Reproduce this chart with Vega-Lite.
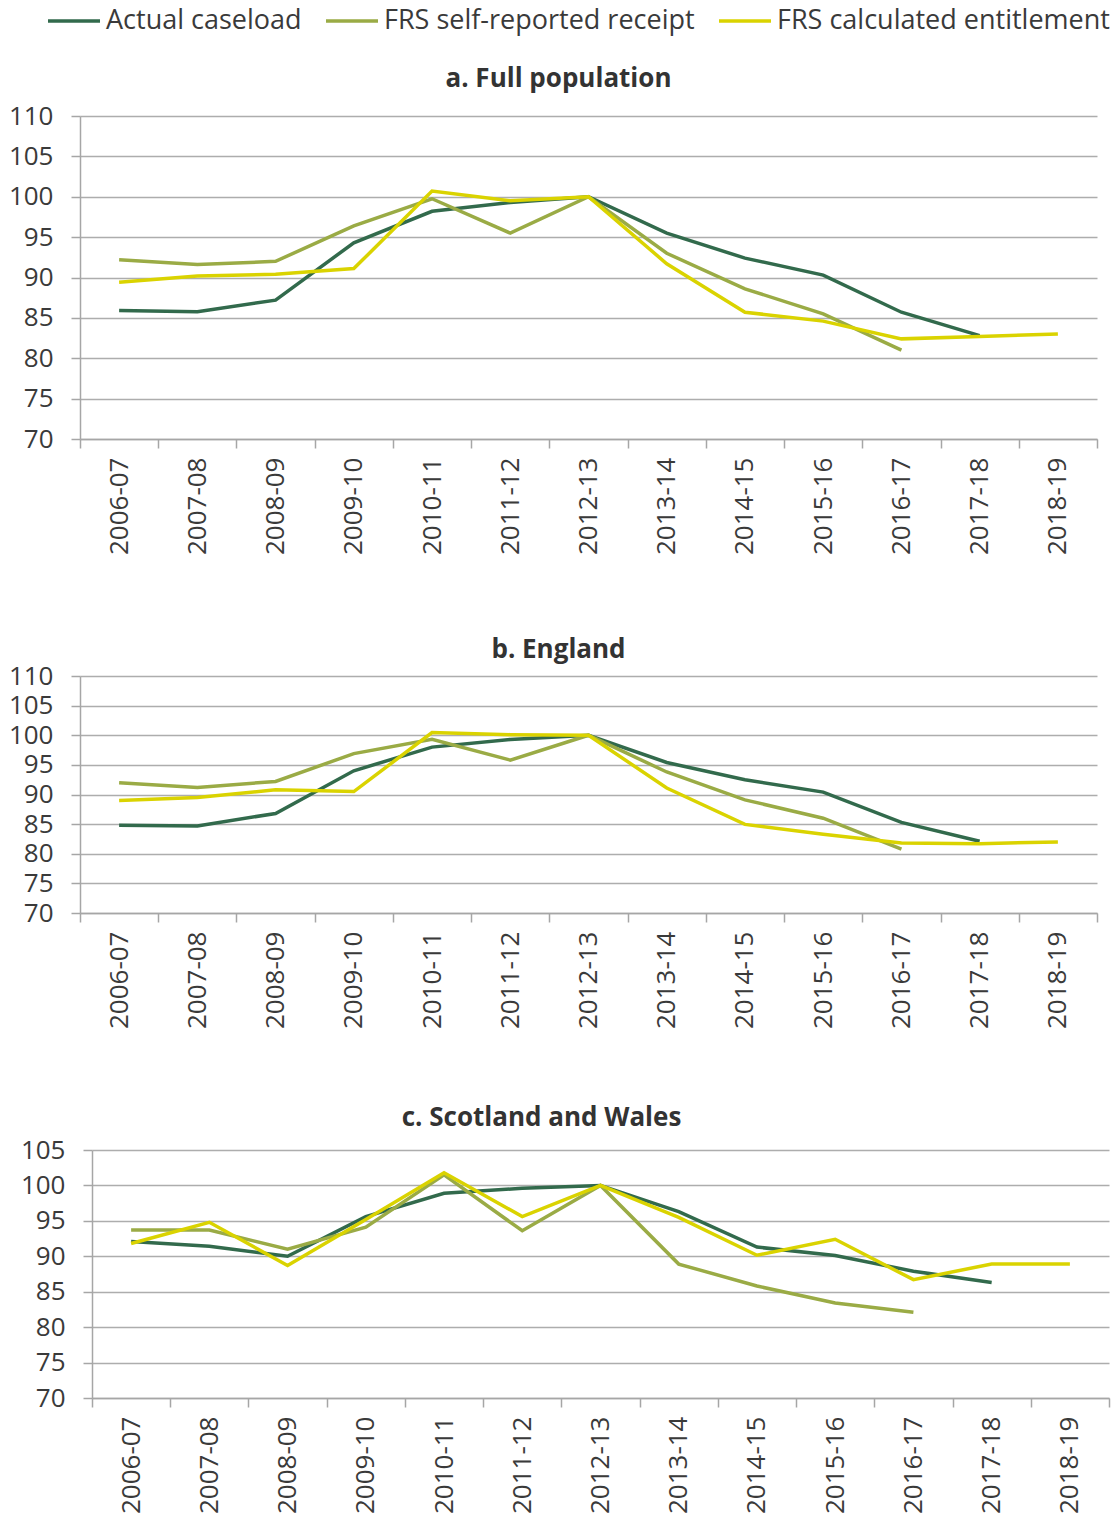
{
  "$schema": "https://vega.github.io/schema/vega-lite/v6.json",
  "background": "white",
  "padding": {"left": 8, "top": -7, "right": 5, "bottom": 5},
  "bounds": "flush",
  "spacing": 237,
  "config": {
    "font": "Open Sans",
    "view": {"stroke": null},
    "axis": {
      "labelFont": "Open Sans",
      "labelFontSize": 26,
      "labelColor": "#3A3A3A",
      "domainColor": "#A6A6A6",
      "domainWidth": 1.5,
      "tickColor": "#A6A6A6",
      "tickWidth": 1.5,
      "tickSize": 9,
      "gridColor": "#ADADAD",
      "gridWidth": 1.5,
      "title": null
    },
    "axisX": {"grid": false, "labelAngle": -90, "labelPadding": 9, "tickBand": "extent"},
    "axisY": {"grid": true, "labelPadding": 18},
    "title": {"font": "Open Sans", "fontSize": 26, "fontWeight": "bold", "color": "#333333", "anchor": "middle"},
    "line": {"strokeWidth": 3.5}
  },
  "data": {
    "values": [
      {"p": "a", "year": "2006-07", "s": "Actual caseload", "v": 85.9},
      {"p": "a", "year": "2007-08", "s": "Actual caseload", "v": 85.75},
      {"p": "a", "year": "2008-09", "s": "Actual caseload", "v": 87.2},
      {"p": "a", "year": "2009-10", "s": "Actual caseload", "v": 94.3},
      {"p": "a", "year": "2010-11", "s": "Actual caseload", "v": 98.2},
      {"p": "a", "year": "2011-12", "s": "Actual caseload", "v": 99.3},
      {"p": "a", "year": "2012-13", "s": "Actual caseload", "v": 100},
      {"p": "a", "year": "2013-14", "s": "Actual caseload", "v": 95.5},
      {"p": "a", "year": "2014-15", "s": "Actual caseload", "v": 92.4},
      {"p": "a", "year": "2015-16", "s": "Actual caseload", "v": 90.3},
      {"p": "a", "year": "2016-17", "s": "Actual caseload", "v": 85.7},
      {"p": "a", "year": "2017-18", "s": "Actual caseload", "v": 82.8},
      {"p": "a", "year": "2006-07", "s": "FRS self-reported receipt", "v": 92.2},
      {"p": "a", "year": "2007-08", "s": "FRS self-reported receipt", "v": 91.6},
      {"p": "a", "year": "2008-09", "s": "FRS self-reported receipt", "v": 92.0},
      {"p": "a", "year": "2009-10", "s": "FRS self-reported receipt", "v": 96.4},
      {"p": "a", "year": "2010-11", "s": "FRS self-reported receipt", "v": 99.75},
      {"p": "a", "year": "2011-12", "s": "FRS self-reported receipt", "v": 95.5},
      {"p": "a", "year": "2012-13", "s": "FRS self-reported receipt", "v": 100},
      {"p": "a", "year": "2013-14", "s": "FRS self-reported receipt", "v": 93.0},
      {"p": "a", "year": "2014-15", "s": "FRS self-reported receipt", "v": 88.6},
      {"p": "a", "year": "2015-16", "s": "FRS self-reported receipt", "v": 85.5},
      {"p": "a", "year": "2016-17", "s": "FRS self-reported receipt", "v": 81.0},
      {"p": "a", "year": "2006-07", "s": "FRS calculated entitlement", "v": 89.4},
      {"p": "a", "year": "2007-08", "s": "FRS calculated entitlement", "v": 90.2},
      {"p": "a", "year": "2008-09", "s": "FRS calculated entitlement", "v": 90.4},
      {"p": "a", "year": "2009-10", "s": "FRS calculated entitlement", "v": 91.1},
      {"p": "a", "year": "2010-11", "s": "FRS calculated entitlement", "v": 100.7},
      {"p": "a", "year": "2011-12", "s": "FRS calculated entitlement", "v": 99.5},
      {"p": "a", "year": "2012-13", "s": "FRS calculated entitlement", "v": 100},
      {"p": "a", "year": "2013-14", "s": "FRS calculated entitlement", "v": 91.7},
      {"p": "a", "year": "2014-15", "s": "FRS calculated entitlement", "v": 85.7},
      {"p": "a", "year": "2015-16", "s": "FRS calculated entitlement", "v": 84.6},
      {"p": "a", "year": "2016-17", "s": "FRS calculated entitlement", "v": 82.4},
      {"p": "a", "year": "2017-18", "s": "FRS calculated entitlement", "v": 82.7},
      {"p": "a", "year": "2018-19", "s": "FRS calculated entitlement", "v": 83.0},

      {"p": "b", "year": "2006-07", "s": "Actual caseload", "v": 84.8},
      {"p": "b", "year": "2007-08", "s": "Actual caseload", "v": 84.7},
      {"p": "b", "year": "2008-09", "s": "Actual caseload", "v": 86.8},
      {"p": "b", "year": "2009-10", "s": "Actual caseload", "v": 94.0},
      {"p": "b", "year": "2010-11", "s": "Actual caseload", "v": 98.0},
      {"p": "b", "year": "2011-12", "s": "Actual caseload", "v": 99.3},
      {"p": "b", "year": "2012-13", "s": "Actual caseload", "v": 100},
      {"p": "b", "year": "2013-14", "s": "Actual caseload", "v": 95.4},
      {"p": "b", "year": "2014-15", "s": "Actual caseload", "v": 92.5},
      {"p": "b", "year": "2015-16", "s": "Actual caseload", "v": 90.4},
      {"p": "b", "year": "2016-17", "s": "Actual caseload", "v": 85.3},
      {"p": "b", "year": "2017-18", "s": "Actual caseload", "v": 82.1},
      {"p": "b", "year": "2006-07", "s": "FRS self-reported receipt", "v": 92.0},
      {"p": "b", "year": "2007-08", "s": "FRS self-reported receipt", "v": 91.2},
      {"p": "b", "year": "2008-09", "s": "FRS self-reported receipt", "v": 92.2},
      {"p": "b", "year": "2009-10", "s": "FRS self-reported receipt", "v": 96.9},
      {"p": "b", "year": "2010-11", "s": "FRS self-reported receipt", "v": 99.3},
      {"p": "b", "year": "2011-12", "s": "FRS self-reported receipt", "v": 95.8},
      {"p": "b", "year": "2012-13", "s": "FRS self-reported receipt", "v": 100},
      {"p": "b", "year": "2013-14", "s": "FRS self-reported receipt", "v": 93.8},
      {"p": "b", "year": "2014-15", "s": "FRS self-reported receipt", "v": 89.1},
      {"p": "b", "year": "2015-16", "s": "FRS self-reported receipt", "v": 86.0},
      {"p": "b", "year": "2016-17", "s": "FRS self-reported receipt", "v": 80.8},
      {"p": "b", "year": "2006-07", "s": "FRS calculated entitlement", "v": 89.0},
      {"p": "b", "year": "2007-08", "s": "FRS calculated entitlement", "v": 89.5},
      {"p": "b", "year": "2008-09", "s": "FRS calculated entitlement", "v": 90.8},
      {"p": "b", "year": "2009-10", "s": "FRS calculated entitlement", "v": 90.5},
      {"p": "b", "year": "2010-11", "s": "FRS calculated entitlement", "v": 100.45},
      {"p": "b", "year": "2011-12", "s": "FRS calculated entitlement", "v": 100.1},
      {"p": "b", "year": "2012-13", "s": "FRS calculated entitlement", "v": 100},
      {"p": "b", "year": "2013-14", "s": "FRS calculated entitlement", "v": 91.1},
      {"p": "b", "year": "2014-15", "s": "FRS calculated entitlement", "v": 84.95},
      {"p": "b", "year": "2015-16", "s": "FRS calculated entitlement", "v": 83.3},
      {"p": "b", "year": "2016-17", "s": "FRS calculated entitlement", "v": 81.8},
      {"p": "b", "year": "2017-18", "s": "FRS calculated entitlement", "v": 81.7},
      {"p": "b", "year": "2018-19", "s": "FRS calculated entitlement", "v": 82.0},

      {"p": "c", "year": "2006-07", "s": "Actual caseload", "v": 92.1},
      {"p": "c", "year": "2007-08", "s": "Actual caseload", "v": 91.4},
      {"p": "c", "year": "2008-09", "s": "Actual caseload", "v": 90.0},
      {"p": "c", "year": "2009-10", "s": "Actual caseload", "v": 95.6},
      {"p": "c", "year": "2010-11", "s": "Actual caseload", "v": 98.9},
      {"p": "c", "year": "2011-12", "s": "Actual caseload", "v": 99.6},
      {"p": "c", "year": "2012-13", "s": "Actual caseload", "v": 100},
      {"p": "c", "year": "2013-14", "s": "Actual caseload", "v": 96.3},
      {"p": "c", "year": "2014-15", "s": "Actual caseload", "v": 91.3},
      {"p": "c", "year": "2015-16", "s": "Actual caseload", "v": 90.1},
      {"p": "c", "year": "2016-17", "s": "Actual caseload", "v": 87.9},
      {"p": "c", "year": "2017-18", "s": "Actual caseload", "v": 86.3},
      {"p": "c", "year": "2006-07", "s": "FRS self-reported receipt", "v": 93.7},
      {"p": "c", "year": "2007-08", "s": "FRS self-reported receipt", "v": 93.7},
      {"p": "c", "year": "2008-09", "s": "FRS self-reported receipt", "v": 91.0},
      {"p": "c", "year": "2009-10", "s": "FRS self-reported receipt", "v": 94.1},
      {"p": "c", "year": "2010-11", "s": "FRS self-reported receipt", "v": 101.5},
      {"p": "c", "year": "2011-12", "s": "FRS self-reported receipt", "v": 93.6},
      {"p": "c", "year": "2012-13", "s": "FRS self-reported receipt", "v": 100},
      {"p": "c", "year": "2013-14", "s": "FRS self-reported receipt", "v": 88.9},
      {"p": "c", "year": "2014-15", "s": "FRS self-reported receipt", "v": 85.8},
      {"p": "c", "year": "2015-16", "s": "FRS self-reported receipt", "v": 83.4},
      {"p": "c", "year": "2016-17", "s": "FRS self-reported receipt", "v": 82.1},
      {"p": "c", "year": "2006-07", "s": "FRS calculated entitlement", "v": 91.8},
      {"p": "c", "year": "2007-08", "s": "FRS calculated entitlement", "v": 94.8},
      {"p": "c", "year": "2008-09", "s": "FRS calculated entitlement", "v": 88.7},
      {"p": "c", "year": "2009-10", "s": "FRS calculated entitlement", "v": 95.2},
      {"p": "c", "year": "2010-11", "s": "FRS calculated entitlement", "v": 101.8},
      {"p": "c", "year": "2011-12", "s": "FRS calculated entitlement", "v": 95.6},
      {"p": "c", "year": "2012-13", "s": "FRS calculated entitlement", "v": 100},
      {"p": "c", "year": "2013-14", "s": "FRS calculated entitlement", "v": 95.5},
      {"p": "c", "year": "2014-15", "s": "FRS calculated entitlement", "v": 90.15},
      {"p": "c", "year": "2015-16", "s": "FRS calculated entitlement", "v": 92.4},
      {"p": "c", "year": "2016-17", "s": "FRS calculated entitlement", "v": 86.7},
      {"p": "c", "year": "2017-18", "s": "FRS calculated entitlement", "v": 88.9},
      {"p": "c", "year": "2018-19", "s": "FRS calculated entitlement", "v": 88.9}
    ]
  },
  "vconcat": [
    {
      "width": 1017,
      "height": 323,
      "title": {"text": "a. Full population", "dx": -30, "offset": 11},
      "transform": [{"filter": "datum.p === 'a'"}],
      "mark": {"type": "line", "strokeWidth": 3.5},
      "encoding": {
        "x": {"field": "year", "type": "ordinal", "bandPosition": 0.5, "scale": {"type": "band", "paddingInner": 0, "paddingOuter": 0}},
        "y": {"field": "v", "type": "quantitative", "scale": {"domain": [70, 110], "nice": false, "zero": false}, "axis": {"values": [70, 75, 80, 85, 90, 95, 100, 105, 110]}},
        "color": {
          "field": "s", "type": "nominal",
          "scale": {"domain": ["Actual caseload", "FRS self-reported receipt", "FRS calculated entitlement"], "range": ["#326A4C", "#9AAB45", "#DAD300"]},
          "legend": {"orient": "none", "legendX": -34, "legendY": -123, "direction": "horizontal", "title": null, "symbolType": "stroke", "symbolStrokeWidth": 4, "symbolSize": 2704, "labelFontSize": 27, "labelFont": "Open Sans", "labelColor": "#3A3A3A", "labelOffset": 4, "columnPadding": 17, "labelLimit": 400}
        }
      }
    },
    {
      "width": 1017,
      "height": 237,
      "title": {"text": "b. England", "dx": -30, "offset": 0},
      "transform": [{"filter": "datum.p === 'b'"}],
      "mark": {"type": "line", "strokeWidth": 3.5},
      "encoding": {
        "x": {"field": "year", "type": "ordinal", "bandPosition": 0.5, "scale": {"type": "band", "paddingInner": 0, "paddingOuter": 0}},
        "y": {"field": "v", "type": "quantitative", "scale": {"domain": [70, 110], "nice": false, "zero": false}, "axis": {"values": [70, 75, 80, 85, 90, 95, 100, 105, 110]}},
        "color": {
          "field": "s", "type": "nominal",
          "scale": {"domain": ["Actual caseload", "FRS self-reported receipt", "FRS calculated entitlement"], "range": ["#326A4C", "#9AAB45", "#DAD300"]},
          "legend": {"orient": "none", "legendX": -34, "legendY": -123, "direction": "horizontal", "title": null, "symbolType": "stroke", "symbolStrokeWidth": 4, "symbolSize": 2704, "labelFontSize": 27, "labelFont": "Open Sans", "labelColor": "#3A3A3A", "labelOffset": 4, "columnPadding": 17, "labelLimit": 400}
        }
      }
    },
    {
      "width": 1029,
      "height": 248,
      "title": {"text": "c. Scotland and Wales", "dx": -53, "offset": 6},
      "transform": [{"filter": "datum.p === 'c'"}],
      "mark": {"type": "line", "strokeWidth": 3.5},
      "encoding": {
        "x": {"field": "year", "type": "ordinal", "bandPosition": 0.5, "scale": {"type": "band", "paddingInner": 0, "paddingOuter": 0, "range": [12, 1029]}},
        "y": {"field": "v", "type": "quantitative", "scale": {"domain": [70, 105], "nice": false, "zero": false}, "axis": {"values": [70, 75, 80, 85, 90, 95, 100, 105], "offset": -12}},
        "color": {
          "field": "s", "type": "nominal",
          "scale": {"domain": ["Actual caseload", "FRS self-reported receipt", "FRS calculated entitlement"], "range": ["#326A4C", "#9AAB45", "#DAD300"]},
          "legend": {"orient": "none", "legendX": -34, "legendY": -123, "direction": "horizontal", "title": null, "symbolType": "stroke", "symbolStrokeWidth": 4, "symbolSize": 2704, "labelFontSize": 27, "labelFont": "Open Sans", "labelColor": "#3A3A3A", "labelOffset": 4, "columnPadding": 17, "labelLimit": 400}
        }
      }
    }
  ]
}
